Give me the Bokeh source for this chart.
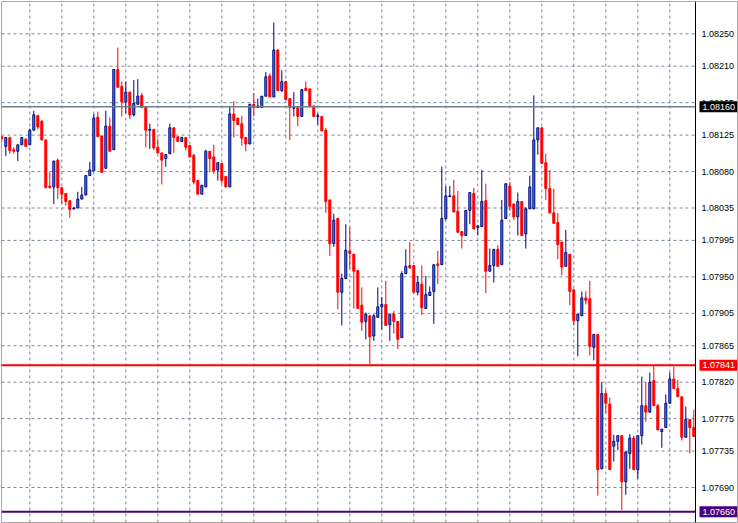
import numpy as np
from bokeh.plotting import figure
from bokeh.models import Span
from bokeh.core.properties import value
from bokeh.embed import file_html
from bokeh.resources import INLINE

# OHLC prices in points (1 point = 0.00001)
open_pts = [108123,108111,108122,108107,108105,108113,108120,108113,108131,108149,
            108142,108119,108062,108061,108094,108060,108053,108044,108034,108035,
            108046,108051,108075,108081,108147,108124,108084,108136,108107,108206,
            108185,108166,108178,108150,108163,108174,108160,108131,108132,108110,
            108103,108096,108102,108134,108123,108117,108122,108112,108100,108069,
            108052,108061,108105,108098,108082,108090,108074,108061,108151,108146,
            108139,108122,108114,108163,108159,108159,108173,108198,108172,108230,
            108180,108191,108170,108158,108159,108148,108183,108182,108161,108148,
            108148,108131,108045,107991,108022,107931,107948,107982,107978,107958,
            107915,107895,107902,107877,107900,107913,107916,107891,107904,107895,
            107875,107954,107964,107964,107931,107941,107911,107927,107932,107966,
            107965,108022,108049,108050,108031,108006,108001,108032,108053,108011,
            108012,108044,107957,107964,107984,107965,108022,108062,108040,108024,
            108043,108003,108034,108034,108119,108134,108091,108059,108029,108017,
            107993,107963,107978,107934,107896,107902,107924,107923,107863,107879,
            107713,107806,107793,107741,107747,107754,107697,107732,107751,107712,
            107754,107791,107783,107822,107791,107759,107764,107794,107824,107812,
            107802,107752,107774,107764]
high_pts = [108124,108122,108123,108110,108113,108122,108121,108133,108155,108150,
            108144,108119,108079,108093,108096,108060,108053,108044,108036,108055,
            108061,108075,108092,108151,108154,108124,108155,108147,108206,108233,
            108191,108191,108178,108193,108194,108177,108160,108139,108132,108120,
            108103,108101,108139,108134,108123,108123,108122,108112,108102,108069,
            108063,108107,108105,108113,108091,108090,108074,108161,108167,108146,
            108149,108122,108163,108177,108170,108173,108203,108201,108264,108231,
            108205,108192,108170,108178,108159,108182,108191,108182,108161,108152,
            108148,108134,108045,108028,108023,107954,108015,108011,107978,107958,
            107937,107906,107902,107904,107937,107925,107945,107904,107908,107895,
            107957,107984,107993,107964,107951,107964,107951,107938,107965,107982,
            108086,108062,108062,108070,108056,108006,108032,108054,108060,108013,
            108082,108065,107985,107984,107989,108045,108065,108067,108040,108054,
            108043,108036,108075,108174,108134,108134,108102,108082,108059,108029,
            107993,108008,107978,107934,107904,107932,107932,107945,107879,107879,
            107820,107810,107801,107755,107754,107754,107734,107756,107754,107754,
            107827,107820,107832,107841,107793,107762,107805,107832,107839,107823,
            107802,107790,107774,107786]
low_pts = [108117,108099,108102,108102,108093,108113,108111,108113,108131,108132,
           108119,108060,108059,108040,108046,108040,108038,108023,108033,108035,
           108046,108051,108075,108081,108123,108079,108084,108105,108107,108184,
           108148,108152,108145,108148,108163,108159,108110,108108,108107,108103,
           108064,108086,108102,108103,108117,108117,108106,108098,108064,108052,
           108052,108061,108079,108077,108069,108065,108061,108061,108122,108138,
           108112,108105,108114,108148,108159,108159,108173,108172,108172,108180,
           108178,108169,108119,108148,108136,108148,108180,108160,108148,108138,
           108130,108029,107976,107987,107910,107890,107948,107960,107911,107911,
           107883,107873,107842,107871,107900,107885,107890,107871,107880,107861,
           107875,107954,107960,107931,107927,107903,107911,107927,107892,107941,
           107965,108020,108049,108030,108005,107985,108001,108015,108009,108001,
           108012,107930,107957,107943,107963,107965,108022,108032,108020,108001,
           108001,107985,108034,108034,108101,108090,108045,108028,108016,107972,
           107952,107963,107915,107890,107852,107902,107916,107853,107847,107680,
           107713,107782,107712,107722,107736,107662,107681,107713,107712,107701,
           107743,107771,107783,107791,107761,107739,107764,107794,107812,107802,
           107748,107752,107732,107753]
close_pts = [108121,108122,108106,108105,108113,108122,108111,108131,108150,108135,
             108119,108060,108060,108093,108060,108052,108043,108033,108035,108046,
             108051,108075,108082,108146,108123,108079,108136,108105,108206,108184,
             108166,108178,108150,108164,108173,108159,108131,108132,108109,108103,
             108094,108101,108134,108122,108117,108122,108110,108098,108067,108052,
             108063,108105,108096,108081,108091,108069,108061,108151,108143,108138,
             108121,108114,108163,108159,108161,108173,108197,108172,108230,108180,
             108191,108169,108159,108159,108148,108181,108180,108160,108148,108149,
             108130,108043,107991,108020,107931,107948,107983,107979,107957,107911,
             107894,107904,107876,107902,107913,107916,107890,107904,107895,107873,
             107954,107963,107961,107931,107943,107912,107928,107931,107965,107964,
             108022,108050,108050,108030,108005,108001,108032,108054,108009,108013,
             108043,107957,107964,107984,107963,108020,108065,108037,108024,108043,
             108001,108034,108061,108119,108134,108090,108059,108029,108016,107990,
             107962,107980,107932,107896,107904,107924,107921,107864,107879,107712,
             107806,107794,107712,107747,107754,107697,107734,107751,107712,107754,
             107791,107783,107820,107791,107761,107762,107794,107824,107812,107802,
             107752,107774,107764,107753]

price_ticks = [1.08250, 1.08210, 1.08165, 1.08125, 1.08080, 1.08035, 1.07995,
               1.07950, 1.07905, 1.07865, 1.07820, 1.07775, 1.07735, 1.07690]
level_gray = 1.08160
level_red = 1.07841
level_purple = 1.07660

o = np.array(open_pts) / 1e5
h = np.array(high_pts) / 1e5
l = np.array(low_pts) / 1e5
c = np.array(close_pts) / 1e5
n = len(o)
idx = np.arange(n)
bull = c >= o
bear = ~bull

# ---- layout (pixels) ----
W, H = 738, 523
PX = 4.0                      # pixels per bar
frame_w = W - 2
x0 = -0.075
x1 = x0 + frame_w / PX
y0, y1 = 1.076468, 1.082899


def xpix(px):
    """data x for a pixel column (frame starts at pixel 1)"""
    return x0 + (px - 1) / PX


x_axis = xpix(695)            # price-scale line
x_lab = xpix(701)             # left edge of tick texts
x_box = xpix(718)             # centre of price boxes
box_w = 38 / PX

p = figure(width=W, height=H, output_backend="svg", toolbar_location=None,
           x_range=(x0, x1), y_range=(y0, y1),
           x_axis_location=None, y_axis_location=None,
           min_border_left=1, min_border_right=1, min_border_top=1, min_border_bottom=1)
p.background_fill_color = "white"
p.border_fill_color = "white"
p.outline_line_color = "#a8a8a8"
p.outline_line_width = 1
p.xgrid.visible = False
p.ygrid.visible = False

grid_col = "#778899"
# horizontal grid at the price-scale ticks
p.segment(x0=[x0] * len(price_ticks), x1=[x_axis] * len(price_ticks),
          y0=price_ticks, y1=price_ticks,
          line_color=grid_col, line_width=1, line_dash="3 3")
# vertical grid every 8 bars
vx = list(range(7, n, 8))
p.segment(x0=vx, x1=vx, y0=[y0] * len(vx), y1=[y1] * len(vx),
          line_color=grid_col, line_width=1, line_dash="3 3")

bull_line = "#000080"
bull_fill = "#2A9FD8"
bear_col = "#FF0000"

p.segment(idx[bull], h[bull], idx[bull], l[bull], line_color=bull_line, line_width=1)
p.segment(idx[bear], h[bear], idx[bear], l[bear], line_color=bear_col, line_width=1)
p.vbar(x=idx[bull], top=c[bull], bottom=o[bull], width=0.5,
       fill_color=bull_fill, line_color=bull_line, line_width=1)
p.vbar(x=idx[bear], top=o[bear], bottom=c[bear], width=0.5,
       fill_color=bear_col, line_color=bear_col, line_width=1)

levels = [level_gray, level_red, level_purple]
line_cols = ["#6f7f8f", "#FF0000", "#4B0082"]
box_cols = ["#000000", "#FF0000", "#4B0082"]
widths = [1.5, 2, 2]
p.segment(x0=[x0] * 3, x1=[x_axis] * 3, y0=levels, y1=levels,
          line_color=line_cols, line_width=widths)

# price scale line
p.add_layout(Span(location=x_axis, dimension="height", line_color="black", line_width=1))

# price-scale labels
p.text(x=[x_lab] * len(price_ticks), y=price_ticks,
       text=["%.5f" % t for t in price_ticks],
       text_align="left", text_baseline="middle", text_color="black",
       text_font=value("Liberation Sans"), text_font_size="9px")

# price boxes for the horizontal levels
p.rect(x=[x_box] * 3, y=levels, width=box_w, height=11, height_units="screen",
       fill_color=box_cols, line_color=None)
p.text(x=[xpix(702)] * 3, y=levels, text=["%.5f" % v for v in levels],
       text_align="left", text_baseline="middle", text_color="white",
       text_font=value("Liberation Sans"), text_font_size="9px")

open("out.html", "w").write(file_html(p, INLINE))
